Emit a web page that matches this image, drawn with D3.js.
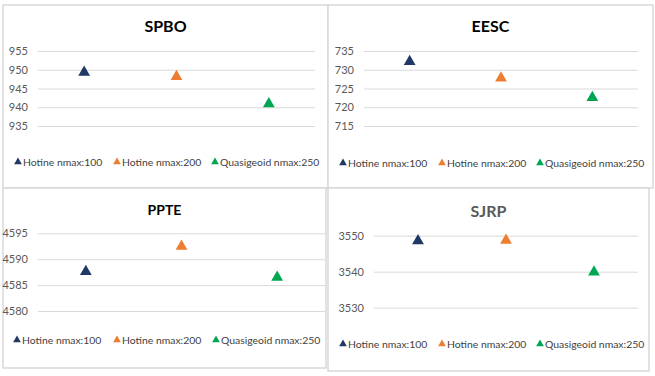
<!DOCTYPE html>
<html>
<head>
<meta charset="utf-8">
<script src="https://cdn.jsdelivr.net/npm/d3@7"></script>
<style>
  body { margin: 0; background: #fff; }
  svg { display: block; }
  text { font-family: Lato, "Open Sans", sans-serif; }
</style>
</head>
<body>
<div id="chart"></div>
<script>
// data
var seriesNames = ["Hotine nmax:100", "Hotine nmax:200", "Quasigeoid nmax:250"];
var seriesColors = ["#1f3864", "#ed7d31", "#00a651"];

var spboValues = [949.3, 948.2, 940.9];
var eescValues = [732.2, 727.8, 722.6];
var ppteValues = [4587.6, 4592.5, 4586.5];
var sjrpValues = [3548.6, 3548.7, 3539.9];

var spboTicks = [935, 940, 945, 950, 955];
var eescTicks = [715, 720, 725, 730, 735];
var ppteTicks = [4580, 4585, 4590, 4595];
var sjrpTicks = [3530, 3540, 3550];

// panel layout (pixel positions only)
var panels = [
  { title: "SPBO", values: spboValues, ticks: spboTicks, titleColor: "#000", titleSize: 16,
    box: [3, 5, 328, 188], px: [38, 315], py: [126, 51], titleY: 25, legendY: 162, legendX: [18, 117, 215] },
  { title: "EESC", values: eescValues, ticks: eescTicks, titleColor: "#000", titleSize: 16,
    box: [328, 5, 653, 188], px: [364, 638], py: [126, 51], titleY: 25, legendY: 163, legendX: [343, 442, 540] },
  { title: "PPTE", values: ppteValues, ticks: ppteTicks, titleColor: "#000", titleSize: 14,
    box: [3, 188, 326, 368], px: [38, 325], py: [311, 233.3], titleY: 209, legendY: 340, legendX: [17, 117, 216] },
  { title: "SJRP", values: sjrpValues, ticks: sjrpTicks, titleColor: "#595959", titleSize: 16,
    box: [328, 188, 649, 371], px: [374, 638], py: [307.7, 235.7], titleY: 210, legendY: 344, legendX: [343, 442, 540] }
];

var svg = d3.select("#chart").append("svg")
  .attr("width", 655)
  .attr("height", 376);

panels.forEach(function (p) {
  var g = svg.append("g");

  // panel frame
  g.append("rect")
    .attr("x", p.box[0]).attr("y", p.box[1])
    .attr("width", p.box[2] - p.box[0]).attr("height", p.box[3] - p.box[1])
    .attr("fill", "#fff")
    .attr("stroke", "#d9d9d9")
    .attr("stroke-width", 1.5);

  var x = d3.scalePoint().domain(seriesNames).range(p.px).padding(0.5);
  var y = d3.scaleLinear()
    .domain([p.ticks[0], p.ticks[p.ticks.length - 1]])
    .range(p.py);

  // gridlines + tick labels
  var axis = g.append("g")
    .attr("transform", "translate(" + p.px[0] + ",0)")
    .call(d3.axisLeft(y).tickValues(p.ticks).tickSize(-(p.px[1] - p.px[0])).tickPadding(10).tickFormat(d3.format("d")));
  axis.select(".domain").remove();
  axis.selectAll("line").attr("stroke", "#d9d9d9");
  axis.selectAll("text")
    .attr("fill", "#595959")
    .style("font-size", "11px")
    .style("font-family", "Lato, sans-serif");

  // title
  g.append("text")
    .attr("x", (p.box[0] + p.box[2]) / 2)
    .attr("y", p.titleY)
    .attr("text-anchor", "middle")
    .attr("dominant-baseline", "central")
    .attr("fill", p.titleColor)
    .style("font-size", p.titleSize + "px")
    .style("font-weight", "bold")
    .text(p.title);

  // markers
  g.selectAll("path.pt")
    .data(p.values)
    .enter()
    .append("path")
    .attr("class", "pt")
    .attr("d", d3.symbol().type(d3.symbolTriangle).size(60))
    .attr("fill", function (d, i) { return seriesColors[i]; })
    .attr("transform", function (d, i) {
      return "translate(" + x(seriesNames[i]) + "," + y(d) + ")";
    });

  // legend
  var lg = g.selectAll("g.leg")
    .data(seriesNames)
    .enter()
    .append("g")
    .attr("class", "leg")
    .attr("transform", function (d, i) {
      return "translate(" + p.legendX[i] + "," + p.legendY + ")";
    });
  lg.append("path")
    .attr("d", d3.symbol().type(d3.symbolTriangle).size(26))
    .attr("fill", function (d, i) { return seriesColors[i]; });
  lg.append("text")
    .attr("x", 5)
    .attr("dominant-baseline", "central")
    .attr("fill", "#404040")
    .style("font-size", "10.4px")
    .text(function (d) { return d; });
});
</script>
</body>
</html>
